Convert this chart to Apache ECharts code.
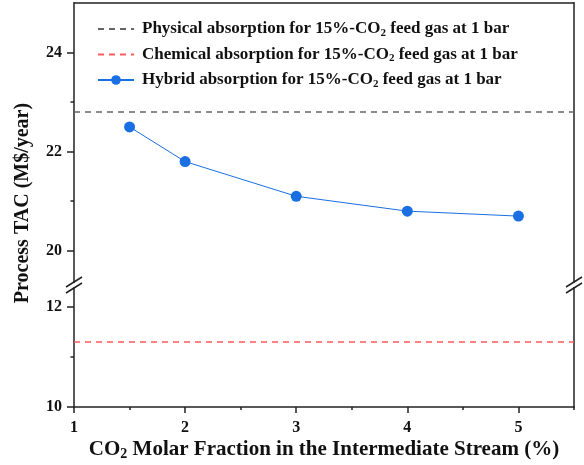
<!DOCTYPE html>
<html>
<head>
<meta charset="utf-8">
<script src="https://cdn.jsdelivr.net/npm/echarts@6/dist/echarts.min.js"></script>
<style>html,body{margin:0;padding:0;background:#fff}#c{width:584px;height:465px}</style>
</head>
<body>
<div id="c"></div>
<script>
// ---- data ----
const hybridX = [1.5, 2, 3, 4, 5];
const hybridTAC = [22.5, 21.8, 21.1, 20.8, 20.7];
const physicalTAC = 22.8;
const chemicalTAC = 11.3;
const xRange = [1, 5.5];
const xTickLabels = [1, 2, 3, 4, 5];
const xMinorTicks = [1.5, 2.5, 3.5, 4.5, 5.5];
const upperRange = [19.35, 25];
const lowerRange = [10, 12.4];
const upperTickLabels = [20, 22, 24];
const upperMinorTicks = [21, 23];
const lowerTickLabels = [10, 12];
const lowerMinorTicks = [11];
const seriesNames = [
  'Physical absorption for 15%-CO{sub|2} feed gas at 1 bar',
  'Chemical absorption for 15%-CO{sub|2} feed gas at 1 bar',
  'Hybrid absorption for 15%-CO{sub|2} feed gas at 1 bar'
];

const FONT = '"Liberation Serif", "Times New Roman", serif';
const AX = '#222';
const subStyle = {fontSize: 11, fontWeight: 'bold', fontFamily: FONT, color: '#111', padding: [8, 0, 0, 0]};

function lineOnlyY(grid, pos, range) {
  return {type: 'value', gridIndex: grid, position: pos, min: range[0], max: range[1],
    axisLine: {show: true, onZero: false, lineStyle: {color: AX, width: 1.5}},
    axisTick: {show: false}, axisLabel: {show: false}, splitLine: {show: false}};
}
function ticksY(grid, range, majors, labels, len, showLine) {
  return {type: 'value', gridIndex: grid, position: 'left', min: range[0], max: range[1],
    axisLine: {show: showLine, onZero: false, lineStyle: {color: AX, width: 1.5}},
    axisTick: {show: true, customValues: majors, length: len, lineStyle: {color: AX, width: 1.5}},
    axisLabel: labels ? {show: true, customValues: labels, fontFamily: FONT, fontWeight: 'bold', fontSize: 16, color: '#111', margin: 12} : {show: false},
    splitLine: {show: false}};
}

const chart = echarts.init(document.getElementById('c'), null, {renderer: 'canvas'});
const option = {
  animation: false,
  backgroundColor: '#fff',
  grid: [
    {left: 74, right: 10, top: 3, height: 280},
    {left: 74, right: 10, top: 287, bottom: 58}
  ],
  legend: {
    orient: 'vertical', left: 97, top: 20, padding: 0,
    itemWidth: 36, itemHeight: 12, itemGap: 7,
    data: [
      {name: seriesNames[0], itemStyle: {opacity: 0}},
      {name: seriesNames[1], itemStyle: {opacity: 0}},
      {name: seriesNames[2]}
    ],
    textStyle: {fontFamily: FONT, fontWeight: 'bold', fontSize: 17, color: '#111', lineHeight: 18, padding: [0, 0, 0, 3],
      rich: {sub: subStyle}}
  },
  xAxis: [
    {type: 'value', gridIndex: 0, position: 'top', min: xRange[0], max: xRange[1],
      axisLine: {show: true, onZero: false, lineStyle: {color: AX, width: 1.5}},
      axisTick: {show: false}, axisLabel: {show: false}, splitLine: {show: false}},
    {type: 'value', gridIndex: 1, position: 'bottom', min: xRange[0], max: xRange[1],
      axisLine: {show: true, onZero: false, lineStyle: {color: AX, width: 1.5}},
      axisTick: {show: true, customValues: xTickLabels, length: 6, lineStyle: {color: AX, width: 1.5}},
      axisLabel: {show: true, customValues: xTickLabels, fontFamily: FONT, fontWeight: 'bold', fontSize: 16, color: '#111', margin: 13},
      splitLine: {show: false},
      name: 'CO{sub|2} Molar Fraction in the Intermediate Stream (%)',
      nameLocation: 'middle', nameGap: 31,
      nameTextStyle: {fontFamily: FONT, fontWeight: 'bold', fontSize: 21, color: '#111',
        rich: {sub: {fontSize: 14, fontWeight: 'bold', fontFamily: FONT, color: '#111', padding: [9, 0, 0, 0]}}}},
    {type: 'value', gridIndex: 1, position: 'bottom', min: xRange[0], max: xRange[1],
      axisLine: {show: false},
      axisTick: {show: true, customValues: xMinorTicks, length: 3, lineStyle: {color: AX, width: 1.5}},
      axisLabel: {show: false}, splitLine: {show: false}}
  ],
  yAxis: [
    ticksY(0, upperRange, upperTickLabels, upperTickLabels, 7, true),
    ticksY(0, upperRange, upperMinorTicks, null, 3.5, false),
    lineOnlyY(0, 'right', upperRange),
    ticksY(1, lowerRange, lowerTickLabels, lowerTickLabels, 7, true),
    ticksY(1, lowerRange, lowerMinorTicks, null, 3.5, false),
    lineOnlyY(1, 'right', lowerRange)
  ],
  series: [
    {name: seriesNames[0], type: 'line', xAxisIndex: 0, yAxisIndex: 0, symbol: 'none',
      data: xRange.map(x => [x, physicalTAC]),
      lineStyle: {color: '#666', width: 1.5, type: [6, 5]}, itemStyle: {color: '#666'}},
    {name: seriesNames[1], type: 'line', xAxisIndex: 1, yAxisIndex: 3, symbol: 'none',
      data: xRange.map(x => [x, chemicalTAC]),
      lineStyle: {color: '#ff5a5a', width: 1.5, type: [6, 5]}, itemStyle: {color: '#ff5a5a'}},
    {name: seriesNames[2], type: 'line', xAxisIndex: 0, yAxisIndex: 0, symbol: 'circle', symbolSize: 11,
      data: hybridX.map((x, i) => [x, hybridTAC[i]]),
      lineStyle: {color: '#1a6fe3', width: 1}, itemStyle: {color: '#1a6fe3'}}
  ],
  graphic: [
    {type: 'text', x: 23, y: 203, rotation: Math.PI / 2,
      style: {text: 'Process TAC (M$/year)', font: 'bold 20px ' + FONT, fill: '#111', textAlign: 'center', textVerticalAlign: 'middle'}}
  ]
};
chart.setOption(option);

// break marks at the junction of the two grids, placed from the axes' own scales
const yTop = chart.convertToPixel({yAxisIndex: 0}, upperRange[0]);
const yBot = chart.convertToPixel({yAxisIndex: 3}, lowerRange[1]);
const xL = chart.convertToPixel({xAxisIndex: 1}, xRange[0]);
const xR = chart.convertToPixel({xAxisIndex: 1}, xRange[1]);
const mid = (yTop + yBot) / 2;
const marks = [];
[xL, xR].forEach(x => {
  marks.push({type: 'rect', shape: {x: x - 1.5, y: mid - 2, width: 3, height: 4}, style: {fill: '#fff'}, z: 99});
  [-3, 3].forEach(d => {
    marks.push({type: 'line', shape: {x1: x - 8, y1: mid + d + 5, x2: x + 8, y2: mid + d - 5},
      style: {stroke: AX, lineWidth: 1.5}, z: 100});
  });
});
option.graphic = option.graphic.concat(marks);
chart.setOption({graphic: option.graphic});
</script>
</body>
</html>
